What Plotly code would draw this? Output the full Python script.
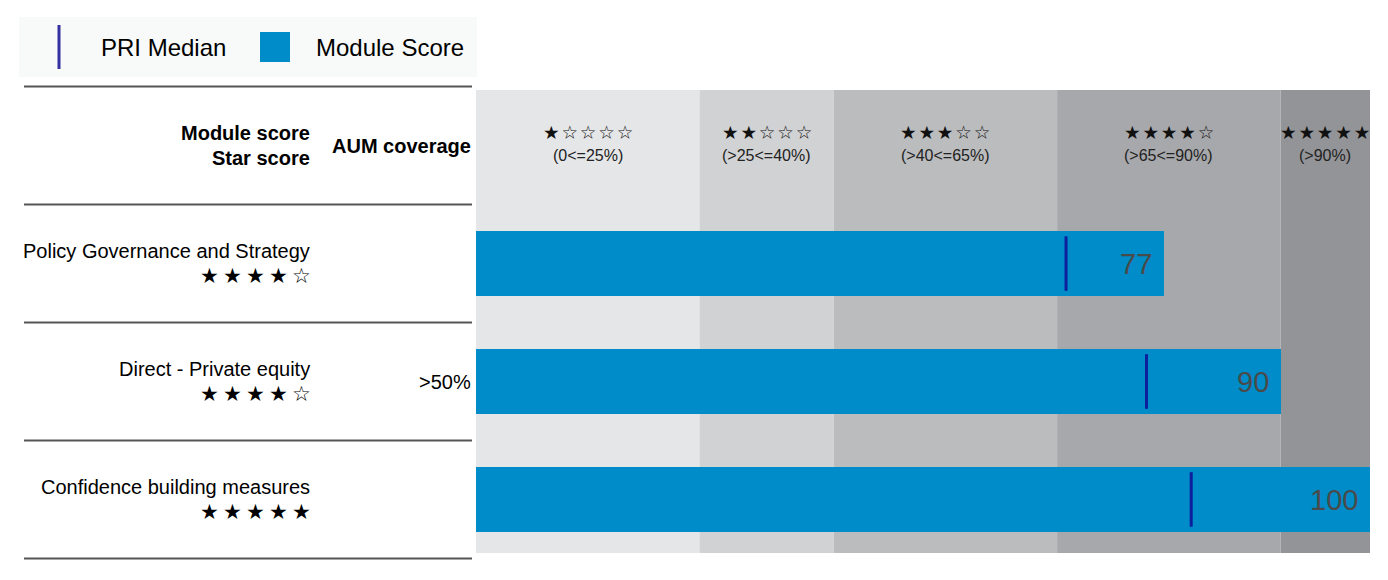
import plotly.graph_objects as go

# ---- data ----
modules = ["Policy Governance and Strategy", "Direct - Private equity", "Confidence building measures"]
module_scores = [77, 90, 100]
pri_medians = [66, 75, 80]
module_stars = ["★★★★☆", "★★★★☆", "★★★★★"]
aum_coverage = ["", ">50%", ""]
band_edges = [0, 25, 40, 65, 90, 100]
band_stars = ["★☆☆☆☆", "★★☆☆☆", "★★★☆☆", "★★★★☆", "★★★★★"]
band_labels = ["(0<=25%)", "(>25<=40%)", "(>40<=65%)", "(>65<=90%)", "(>90%)"]
band_colors = ["#e5e6e8", "#d1d2d4", "#bbbcbe", "#a7a8ab", "#939497"]

# page offset (body margin) compensation
OFF = 8
W, H = 1388 - OFF, 580 - OFF
BAR_COLOR = "#008bc9"
MED_COLOR = "#0c1f9c"
FONT = "Liberation Sans, Arial, sans-serif"
STAR_FONT = "DejaVu Sans"


def X(px):
    return (px - OFF) / W


def Y(py):
    return 1 - (py - OFF) / H


def spaced(s, sep):
    return sep.join(list(s))


row_y = [2, 1, 0]
header_y = 3


def ypx(v):  # reference pixel of a y value
    return 499.5 - 118 * v


y_lo, y_hi = -0.56, 3.56
dom_bottom = Y(ypx(y_lo))
dom_top = Y(ypx(y_hi))
band_y0 = (499.5 - 553) / 118
band_y1 = (499.5 - 90) / 118

fig = go.Figure()

fig.add_trace(go.Bar(
    x=module_scores, y=row_y, orientation="h", width=0.55,
    marker=dict(color=BAR_COLOR, line=dict(width=0)),
    hoverinfo="skip", showlegend=False,
))

fig.add_trace(go.Scatter(
    x=pri_medians, y=row_y, mode="markers",
    marker=dict(symbol="line-ns", size=39, line=dict(width=3, color=MED_COLOR)),
    hoverinfo="skip", showlegend=False,
))

shapes = []
annotations = []

for i in range(len(band_colors)):
    shapes.append(dict(type="rect", xref="x", yref="y",
                       x0=band_edges[i], x1=band_edges[i + 1], y0=band_y0, y1=band_y1,
                       fillcolor=band_colors[i], line=dict(width=0), layer="below"))
    xm = (band_edges[i] + band_edges[i + 1]) / 2
    annotations.append(dict(x=xm, y=header_y, xref="x", yref="y", text=spaced(band_stars[i], "\u200a"),
                            showarrow=False, yshift=13, font=dict(size=18.5, color="#111", family=STAR_FONT)))
    annotations.append(dict(x=xm, y=header_y, xref="x", yref="y", text=band_labels[i],
                            showarrow=False, yshift=-10, font=dict(size=16, color="#222", family=FONT)))

for v, yy in zip(module_scores, row_y):
    annotations.append(dict(x=v, y=yy, xref="x", yref="y", text=str(v), showarrow=False,
                            xanchor="right", xshift=-10,
                            font=dict(size=29, color="#4a4a4a", family=FONT)))

for yy in [3.5, 2.5, 1.5, 0.5, -0.5]:
    shapes.append(dict(type="line", xref="paper", yref="y", x0=X(24), x1=X(472), y0=yy, y1=yy,
                       line=dict(color="#555555", width=2)))

annotations.append(dict(x=X(312), y=header_y, xref="paper", yref="y", text="<b>Module score</b>",
                        showarrow=False, xanchor="right", yanchor="middle", yshift=13,
                        font=dict(size=20, color="#000", family=FONT)))
annotations.append(dict(x=X(312), y=header_y, xref="paper", yref="y", text="<b>Star score</b>",
                        showarrow=False, xanchor="right", yanchor="middle", yshift=-12,
                        font=dict(size=20, color="#000", family=FONT)))
annotations.append(dict(x=X(473), y=header_y, xref="paper", yref="y", text="<b>AUM coverage</b>",
                        showarrow=False, xanchor="right", yanchor="middle", yshift=0,
                        font=dict(size=20, color="#000", family=FONT)))

for name, stars, aum, yy in zip(modules, module_stars, aum_coverage, row_y):
    annotations.append(dict(x=X(312), y=yy, xref="paper", yref="y", text=name, showarrow=False,
                            xanchor="right", yanchor="middle", yshift=13,
                            font=dict(size=20, color="#000", family=FONT)))
    annotations.append(dict(x=X(313), y=yy, xref="paper", yref="y", text=spaced(stars, "\u2009"),
                            showarrow=False, xanchor="right", yanchor="middle", yshift=-12,
                            font=dict(size=21, color="#000", family=STAR_FONT)))
    if aum:
        annotations.append(dict(x=X(473), y=yy, xref="paper", yref="y", text=aum, showarrow=False,
                                xanchor="right", yanchor="middle",
                                font=dict(size=20, color="#000", family=FONT)))

# custom legend
shapes.append(dict(type="rect", xref="paper", yref="paper", x0=X(19), x1=X(477),
                   y0=Y(77), y1=Y(17), fillcolor="#f8f9f9", line=dict(width=0)))
shapes.append(dict(type="line", xref="paper", yref="paper", x0=X(59), x1=X(59),
                   y0=Y(69), y1=Y(25), line=dict(color="#3430a0", width=3)))
shapes.append(dict(type="rect", xref="paper", yref="paper", x0=X(260), x1=X(290),
                   y0=Y(62), y1=Y(32), fillcolor=BAR_COLOR, line=dict(width=0)))
annotations.append(dict(x=X(99), y=Y(48), xref="paper", yref="paper", text="PRI Median",
                        showarrow=False, xanchor="left", yanchor="middle",
                        font=dict(size=24, color="#000", family=FONT)))
annotations.append(dict(x=X(314), y=Y(48), xref="paper", yref="paper", text="Module Score",
                        showarrow=False, xanchor="left", yanchor="middle",
                        font=dict(size=24, color="#000", family=FONT)))

fig.update_layout(
    width=W, height=H,
    margin=dict(l=0, r=0, t=0, b=0),
    paper_bgcolor="white", plot_bgcolor="rgba(0,0,0,0)",
    showlegend=False,
    xaxis=dict(range=[0, 100], domain=[X(476), X(1370)], visible=False, fixedrange=True),
    yaxis=dict(range=[y_lo, y_hi], domain=[dom_bottom, dom_top], visible=False, fixedrange=True),
    shapes=shapes, annotations=annotations,
    bargap=0,
)

fig.write_html("out.html")
